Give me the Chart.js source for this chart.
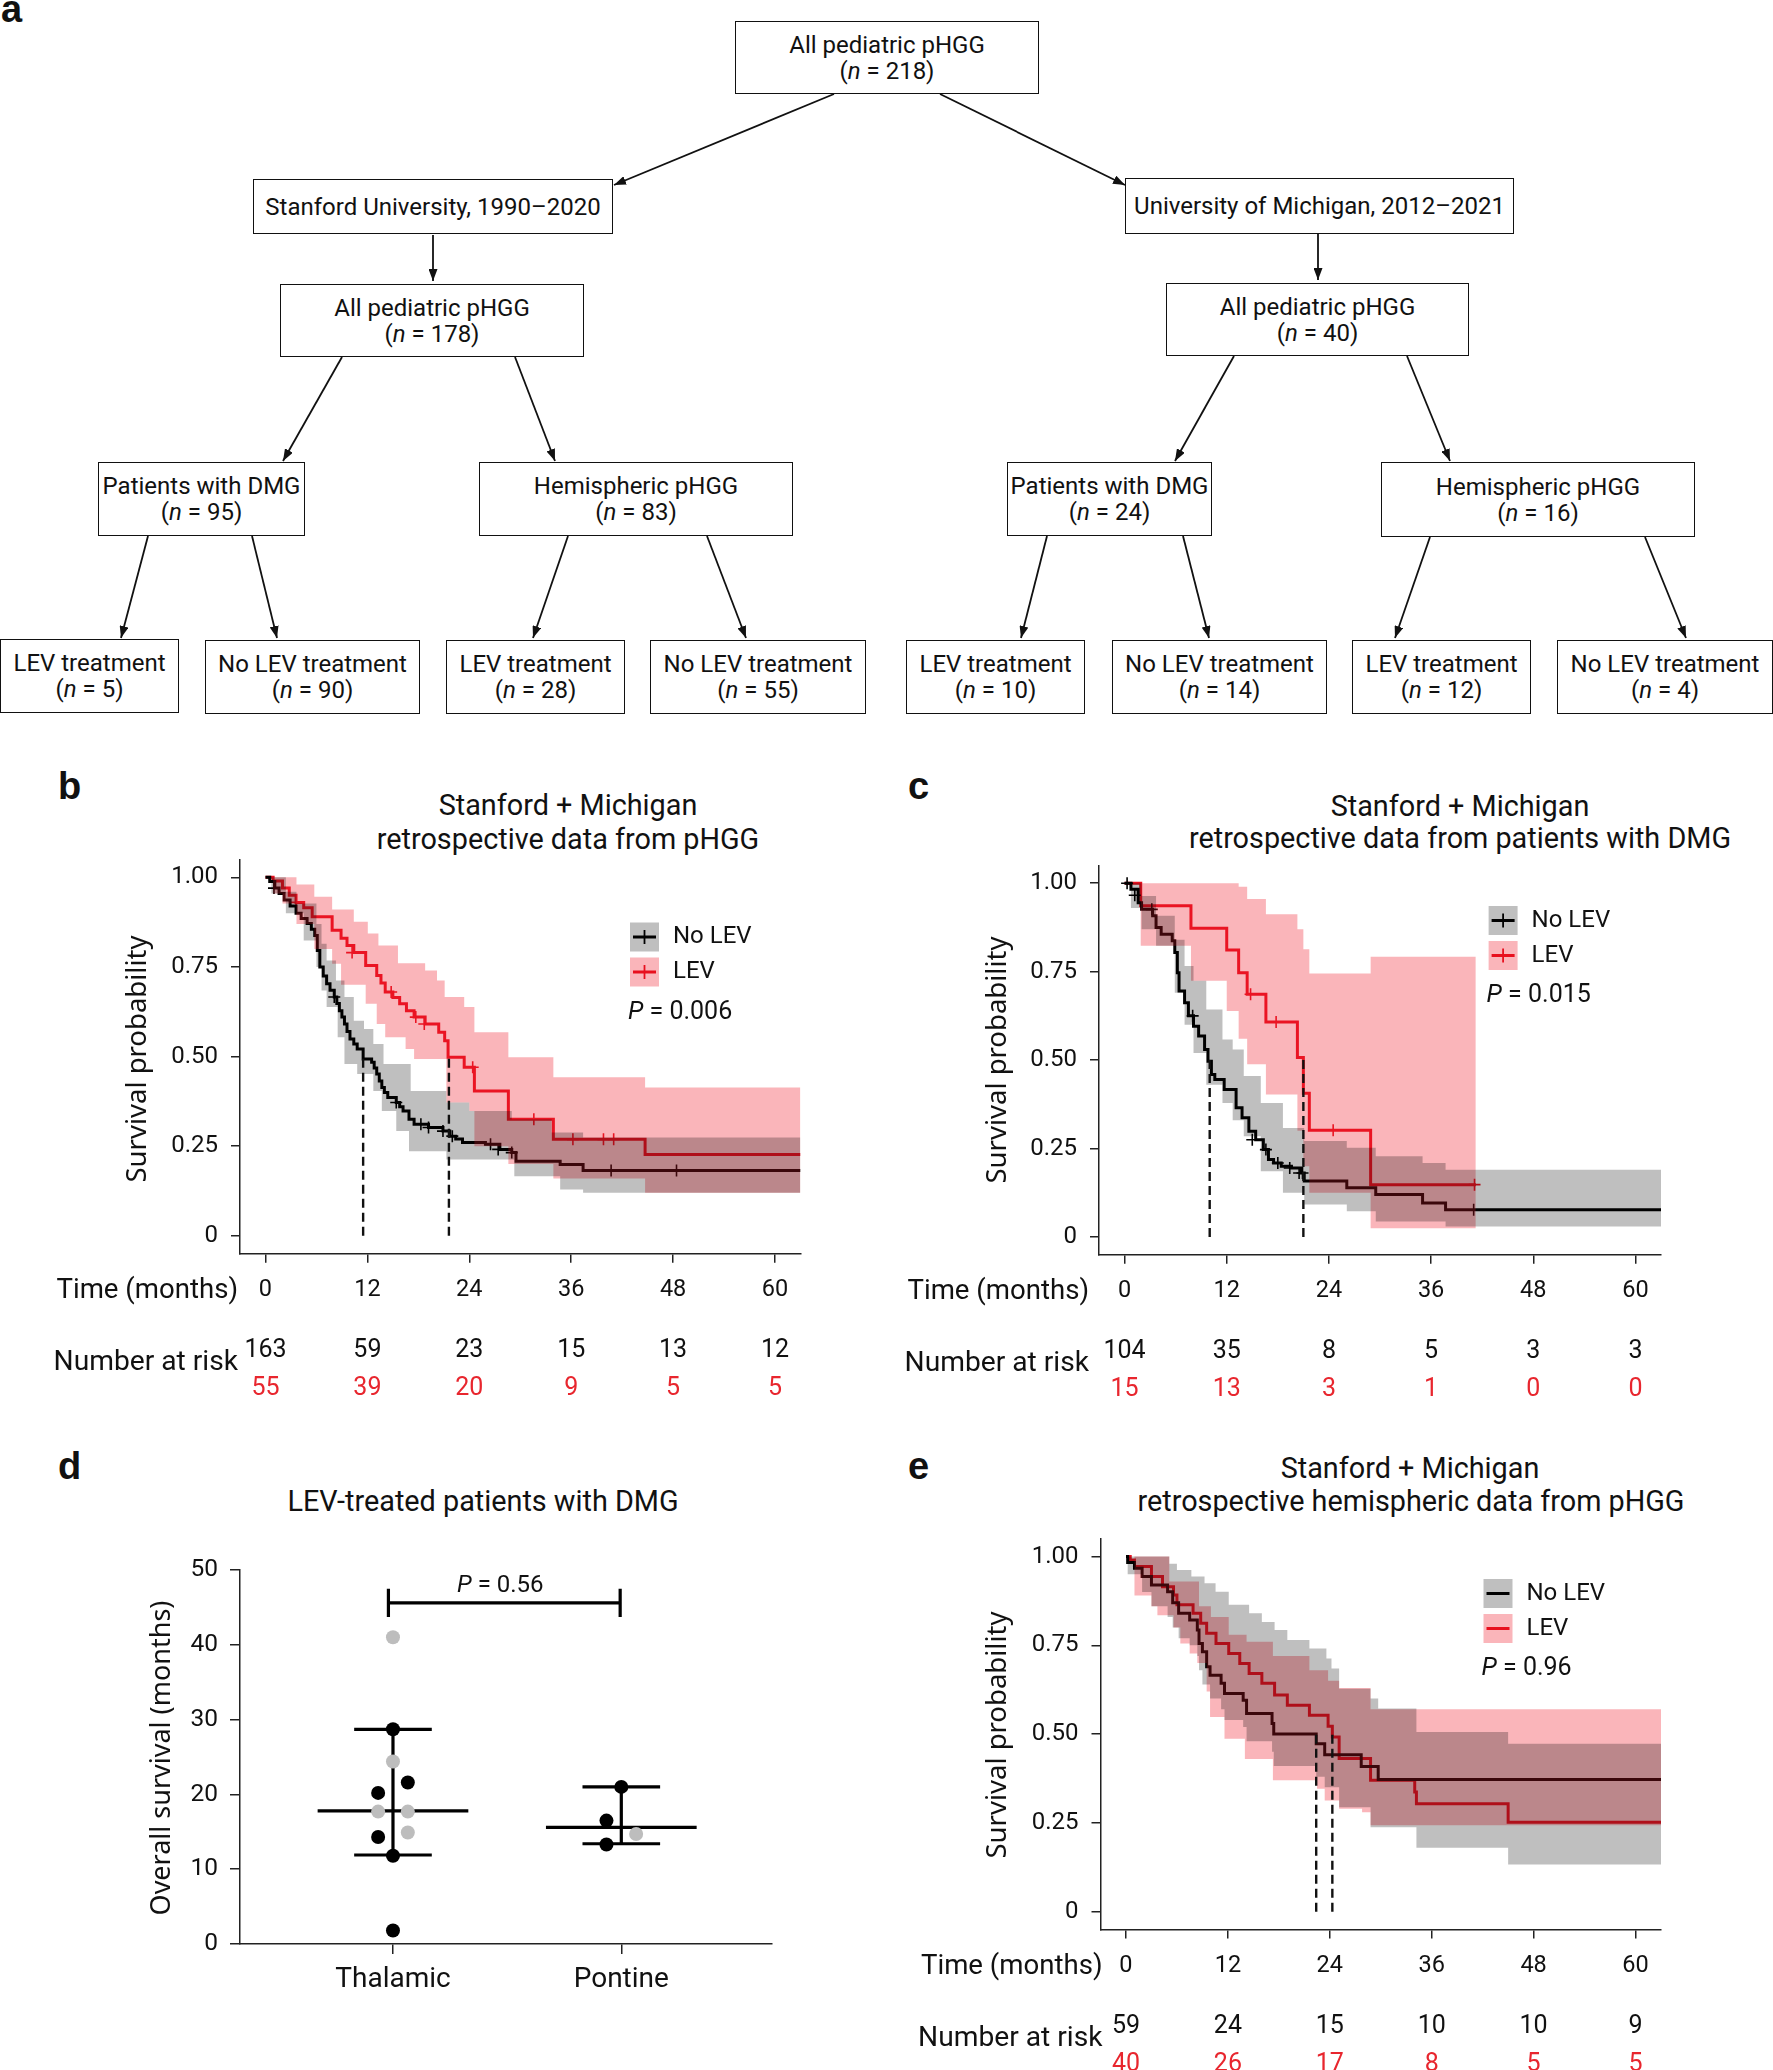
<!DOCTYPE html>
<html lang="en">
<head>
  <meta charset="UTF-8">
  <title>LEV and pHGG survival</title>
  <style>
    html, body { margin: 0; padding: 0; background: #fff; }
    body { width: 1773px; height: 2070px; position: relative; overflow: hidden; font-family: Roboto, sans-serif; color: #111; }
    .box { position: absolute; border: 1.6px solid #111; box-sizing: border-box; display: flex; flex-direction: column; justify-content: center; align-items: center; font-size: 24px; line-height: 26px; text-align: center; white-space: nowrap; background: #fff; }
    .lbl { position: absolute; font-family: "Liberation Sans", Arial, sans-serif; font-weight: bold; font-size: 38px; line-height: 38px; }
    .ttl { position: absolute; transform: translate(-50%, -50%); font-size: 28.8px; line-height: 32px; white-space: nowrap; }
    canvas { position: absolute; }
    svg { position: absolute; left: 0; top: 0; }
  </style>
</head>
<body>
  <!-- panel a : flow chart -->
  <svg width="1773" height="730">
    <defs>
      <marker id="ah" viewBox="0 0 12 9" refX="12" refY="4.5" markerWidth="12" markerHeight="9" markerUnits="userSpaceOnUse" orient="auto">
        <path d="M0,0 L12,4.5 L0,9 z" fill="#111"/>
      </marker>
    </defs>
    <g stroke="#111" stroke-width="1.8" marker-end="url(#ah)">
      <line x1="834" y1="94" x2="614" y2="185"/>
      <line x1="940" y1="94" x2="1125" y2="185"/>
      <line x1="433" y1="235" x2="433" y2="281"/>
      <line x1="1318" y1="234" x2="1318" y2="280"/>
      <line x1="342" y1="357" x2="283" y2="461"/>
      <line x1="515" y1="357" x2="555" y2="461"/>
      <line x1="1234" y1="356" x2="1175" y2="461"/>
      <line x1="1407" y1="356" x2="1450" y2="461"/>
      <line x1="148" y1="536" x2="121" y2="638"/>
      <line x1="252" y1="536" x2="277" y2="638"/>
      <line x1="568" y1="536" x2="533" y2="638"/>
      <line x1="707" y1="536" x2="746" y2="638"/>
      <line x1="1047" y1="536" x2="1021" y2="638"/>
      <line x1="1183" y1="536" x2="1209" y2="638"/>
      <line x1="1430" y1="537" x2="1395" y2="638"/>
      <line x1="1645" y1="537" x2="1686" y2="638"/>
    </g>
  </svg>

  <div class="lbl" style="left:1px; top:-10px;">a</div>
  <div class="box" style="left:735px; top:21px; width:304px; height:73px;"><span>All pediatric pHGG</span><span>(<i>n</i> = 218)</span></div>
  <div class="box" style="left:253px; top:179px; width:360px; height:55px;"><span>Stanford University, 1990–2020</span></div>
  <div class="box" style="left:1125px; top:178px; width:389px; height:56px;"><span>University of Michigan, 2012–2021</span></div>
  <div class="box" style="left:280px; top:284px; width:304px; height:73px;"><span>All pediatric pHGG</span><span>(<i>n</i> = 178)</span></div>
  <div class="box" style="left:1166px; top:283px; width:303px; height:73px;"><span>All pediatric pHGG</span><span>(<i>n</i> = 40)</span></div>
  <div class="box" style="left:98px; top:462px; width:207px; height:74px;"><span>Patients with DMG</span><span>(<i>n</i> = 95)</span></div>
  <div class="box" style="left:479px; top:462px; width:314px; height:74px;"><span>Hemispheric pHGG</span><span>(<i>n</i> = 83)</span></div>
  <div class="box" style="left:1007px; top:462px; width:205px; height:74px;"><span>Patients with DMG</span><span>(<i>n</i> = 24)</span></div>
  <div class="box" style="left:1381px; top:462px; width:314px; height:75px;"><span>Hemispheric pHGG</span><span>(<i>n</i> = 16)</span></div>
  <div class="box" style="left:0px; top:639px; width:179px; height:74px;"><span>LEV treatment</span><span>(<i>n</i> = 5)</span></div>
  <div class="box" style="left:205px; top:640px; width:215px; height:74px;"><span>No LEV treatment</span><span>(<i>n</i> = 90)</span></div>
  <div class="box" style="left:446px; top:640px; width:179px; height:74px;"><span>LEV treatment</span><span>(<i>n</i> = 28)</span></div>
  <div class="box" style="left:650px; top:640px; width:216px; height:74px;"><span>No LEV treatment</span><span>(<i>n</i> = 55)</span></div>
  <div class="box" style="left:906px; top:640px; width:179px; height:74px;"><span>LEV treatment</span><span>(<i>n</i> = 10)</span></div>
  <div class="box" style="left:1112px; top:640px; width:215px; height:74px;"><span>No LEV treatment</span><span>(<i>n</i> = 14)</span></div>
  <div class="box" style="left:1352px; top:640px; width:179px; height:74px;"><span>LEV treatment</span><span>(<i>n</i> = 12)</span></div>
  <div class="box" style="left:1557px; top:640px; width:216px; height:74px;"><span>No LEV treatment</span><span>(<i>n</i> = 4)</span></div>

  <!-- panel letters and titles -->
  <div class="lbl" style="left:58px; top:767px;">b</div>
  <div class="lbl" style="left:908px; top:767px;">c</div>
  <div class="lbl" style="left:58px; top:1447px;">d</div>
  <div class="lbl" style="left:908px; top:1447px;">e</div>

  <div class="ttl" style="left:568px; top:805px;">Stanford + Michigan</div>
  <div class="ttl" style="left:568px; top:839px;">retrospective data from pHGG</div>
  <div class="ttl" style="left:1460px; top:806px;">Stanford + Michigan</div>
  <div class="ttl" style="left:1460px; top:838px;">retrospective data from patients with DMG</div>
  <div class="ttl" style="left:483px; top:1501px;">LEV-treated patients with DMG</div>
  <div class="ttl" style="left:1410px; top:1468px;">Stanford + Michigan</div>
  <div class="ttl" style="left:1411px; top:1501px;">retrospective hemispheric data from pHGG</div>

  <canvas id="kmB" width="830" height="580" style="left:0px; top:832px;"></canvas>
  <canvas id="kmC" width="830" height="580" style="left:870px; top:832px;"></canvas>
  <canvas id="dotD" width="830" height="520" style="left:0px; top:1520px;"></canvas>
  <canvas id="kmE" width="830" height="560" style="left:870px; top:1510px;"></canvas>

  <script src="https://cdn.jsdelivr.net/npm/chart.js"></script>
  <script>
    // shared tick values
    const timeTicks = [0, 12, 24, 36, 48, 60];
    const survTicks = [0, 0.25, 0.5, 0.75, 1];

    // ---- panel b: all pHGG ----
    const bNoLevT = [0, 0.5, 1.1, 1.6, 2.2, 2.9, 3.6, 4.2, 4.9, 5.4, 5.8, 6.1, 6.4, 6.8, 7.2, 7.6, 8.1, 8.4, 8.7, 9.0, 9.3, 9.6, 9.95, 10.4, 10.8, 11.5, 12.5, 12.8, 13.1, 13.4, 13.7, 14.0, 14.4, 15.4, 15.8, 16.2, 16.9, 17.5, 19.2, 20.9, 21.7, 22.4, 23.2, 25.9, 27.6, 29.0, 29.5, 34.7, 37.4, 63];
    const bNoLevS = [1.0, 0.988, 0.97, 0.955, 0.937, 0.92, 0.90, 0.885, 0.871, 0.855, 0.838, 0.796, 0.75, 0.725, 0.703, 0.685, 0.666, 0.648, 0.628, 0.61, 0.591, 0.57, 0.549, 0.535, 0.521, 0.493, 0.484, 0.468, 0.451, 0.432, 0.414, 0.40, 0.386, 0.372, 0.36, 0.348, 0.325, 0.311, 0.302, 0.292, 0.278, 0.27, 0.26, 0.255, 0.241, 0.232, 0.208, 0.199, 0.182, 0.182];
    const bLevT = [0, 0.9, 2.0, 2.8, 3.6, 4.5, 5.5, 7.85, 8.9, 9.6, 10.4, 11.8, 13.1, 13.6, 14.1, 15.0, 15.8, 16.6, 17.5, 18.8, 20.4, 21.1, 21.5, 23.4, 24.6, 28.6, 33.9, 44.7, 63];
    const bLevS = [1.0, 0.99, 0.97, 0.95, 0.93, 0.915, 0.89, 0.852, 0.83, 0.81, 0.79, 0.754, 0.726, 0.705, 0.68, 0.665, 0.647, 0.628, 0.61, 0.591, 0.568, 0.544, 0.498, 0.47, 0.404, 0.325, 0.269, 0.227, 0.227];
    const bNoLevCiT = [0, 0.7, 2.4, 3.65, 4.5, 6.0, 6.6, 7.2, 8.3, 8.5, 9.3, 10.4, 10.8, 11.6, 12.7, 13.7, 13.9, 15.4, 16.9, 17.1, 21.3, 24.0, 29.0, 29.3, 33.7, 34.7, 37.4, 63];
    const bNoLevUp = [1.0, 1.0, 0.96, 0.927, 0.927, 0.87, 0.815, 0.768, 0.712, 0.712, 0.666, 0.60, 0.60, 0.577, 0.535, 0.535, 0.479, 0.479, 0.479, 0.404, 0.372, 0.348, 0.325, 0.325, 0.288, 0.288, 0.274, 0.274];
    const bNoLevLo = [1.0, 0.955, 0.90, 0.90, 0.824, 0.75, 0.684, 0.638, 0.638, 0.554, 0.479, 0.479, 0.451, 0.451, 0.404, 0.348, 0.348, 0.292, 0.236, 0.236, 0.213, 0.213, 0.213, 0.166, 0.166, 0.129, 0.12, 0.12];
    const bLevCiT = [0, 0.9, 2.0, 3.65, 5.75, 7.85, 8.9, 10.4, 11.8, 12.05, 13.1, 13.3, 14.1, 15.6, 16.5, 17.5, 18.8, 20.2, 21.1, 21.3, 23.4, 24.0, 24.6, 28.6, 33.9, 44.7, 63];
    const bLevUp = [1.0, 1.0, 1.0, 0.98, 0.946, 0.91, 0.91, 0.876, 0.876, 0.843, 0.843, 0.81, 0.81, 0.76, 0.76, 0.76, 0.74, 0.712, 0.666, 0.666, 0.638, 0.638, 0.568, 0.498, 0.442, 0.414, 0.414];
    const bLevLo = [1.0, 0.955, 0.927, 0.87, 0.80, 0.759, 0.70, 0.70, 0.647, 0.647, 0.591, 0.591, 0.554, 0.554, 0.521, 0.493, 0.493, 0.493, 0.493, 0.372, 0.372, 0.348, 0.25, 0.20, 0.16, 0.12, 0.12];
    const bNoLevCensT = [1.0, 8.1, 15.4, 18.3, 19.2, 20.9, 22.0, 26.5, 27.4, 29.0, 40.7, 48.4];
    const bNoLevCensS = [0.97, 0.666, 0.372, 0.311, 0.302, 0.292, 0.278, 0.255, 0.241, 0.232, 0.182, 0.182];
    const bLevCensT = [3.6, 10.2, 14.8, 17.7, 18.7, 24.4, 31.6, 36.2, 39.8, 41.0];
    const bLevCensS = [0.93, 0.79, 0.68, 0.61, 0.591, 0.47, 0.325, 0.269, 0.269, 0.269];
    const bMedians = [11.5, 21.6];
    const bRiskNoLev = [163, 59, 23, 15, 13, 12];
    const bRiskLev = [55, 39, 20, 9, 5, 5];

    // ---- panel c: DMG ----
    const cNoLevT = [0, 0.75, 1.6, 2.0, 3.3, 3.7, 4.3, 5.6, 5.9, 6.2, 6.4, 7.05, 7.5, 8.1, 8.7, 9.4, 9.8, 10.2, 10.6, 11.7, 13.1, 13.8, 14.6, 15.4, 16.3, 16.9, 17.5, 18.4, 19.6, 20.7, 21.1, 26.1, 29.5, 35.0, 37.7, 63];
    const cNoLevS = [1.0, 0.983, 0.945, 0.926, 0.908, 0.875, 0.856, 0.837, 0.804, 0.747, 0.695, 0.662, 0.625, 0.596, 0.568, 0.53, 0.497, 0.459, 0.445, 0.417, 0.365, 0.337, 0.299, 0.275, 0.247, 0.219, 0.209, 0.2, 0.195, 0.181, 0.158, 0.139, 0.12, 0.096, 0.077, 0.077];
    const cLevT = [0, 1.9, 7.8, 12.0, 13.4, 14.4, 16.6, 20.3, 21.0, 21.7, 28.9, 41.25];
    const cLevS = [1.0, 0.936, 0.873, 0.811, 0.747, 0.686, 0.608, 0.507, 0.406, 0.302, 0.148, 0.148];
    const cNoLevCiT = [0, 0.75, 2.0, 3.7, 5.9, 7.05, 8.1, 9.6, 11.5, 12.7, 14.0, 16.0, 18.6, 21.1, 26.1, 29.5, 35.0, 37.7, 63];
    const cNoLevUp = [1.0, 1.0, 0.964, 0.908, 0.84, 0.766, 0.724, 0.643, 0.558, 0.53, 0.455, 0.379, 0.308, 0.271, 0.252, 0.228, 0.209, 0.19, 0.19];
    const cNoLevLo = [1.0, 0.93, 0.87, 0.823, 0.69, 0.60, 0.52, 0.43, 0.379, 0.33, 0.285, 0.186, 0.125, 0.092, 0.073, 0.044, 0.044, 0.03, 0.03];
    const cLevCiT = [0, 1.9, 7.8, 12.0, 13.4, 14.4, 16.6, 20.3, 21.0, 21.7, 28.9, 41.25];
    const cLevUp = [1.0, 1.0, 1.0, 1.0, 0.99, 0.955, 0.912, 0.87, 0.813, 0.745, 0.792, 0.792];
    const cLevLo = [1.0, 0.823, 0.724, 0.639, 0.56, 0.488, 0.403, 0.30, 0.2, 0.125, 0.025, 0.025];
    const cNoLevCensT = [0.3, 1.2, 3.2, 8.0, 15.0, 16.6, 18.0, 19.4, 20.5, 20.9, 41.0];
    const cNoLevCensS = [1.0, 0.966, 0.926, 0.625, 0.275, 0.247, 0.209, 0.195, 0.181, 0.181, 0.077];
    const cLevCensT = [14.8, 17.8, 24.5, 41.1];
    const cLevCensS = [0.686, 0.608, 0.302, 0.148];
    const cMedians = [10.0, 21.0];
    const cRiskNoLev = [104, 35, 8, 5, 3, 3];
    const cRiskLev = [15, 13, 3, 1, 0, 0];

    // ---- panel e: hemispheric ----
    const eNoLevT = [0, 0.2, 1.0, 1.9, 3.0, 4.9, 5.5, 6.2, 7.5, 8.4, 8.6, 9.0, 9.5, 9.9, 11.2, 11.6, 13.8, 14.2, 17.2, 17.4, 22.4, 23.4, 27.7, 29.7, 63];
    const eNoLevS = [1.0, 0.983, 0.967, 0.944, 0.92, 0.901, 0.87, 0.84, 0.821, 0.793, 0.755, 0.732, 0.69, 0.666, 0.643, 0.614, 0.595, 0.558, 0.53, 0.50, 0.473, 0.442, 0.409, 0.372, 0.372];
    const eLevT = [0, 0.5, 1.0, 3.0, 4.3, 5.6, 6.0, 7.9, 8.8, 9.5, 10.6, 12.1, 13.4, 14.5, 16.0, 17.5, 19.0, 21.6, 23.8, 24.3, 25.1, 28.8, 34.0, 34.2, 45.0, 63];
    const eLevS = [1.0, 0.99, 0.972, 0.944, 0.915, 0.892, 0.864, 0.84, 0.812, 0.784, 0.755, 0.727, 0.699, 0.671, 0.643, 0.61, 0.581, 0.553, 0.522, 0.492, 0.431, 0.37, 0.337, 0.304, 0.252, 0.252];
    const eNoLevCiT = [0, 0.2, 1.9, 3.0, 4.9, 5.1, 5.5, 6.0, 6.2, 7.5, 7.7, 8.4, 8.6, 9.0, 9.25, 9.9, 10.55, 11.2, 11.6, 12.1, 13.8, 14.2, 14.5, 16.0, 17.2, 17.4, 17.5, 19.0, 21.6, 22.4, 23.4, 23.6, 24.2, 25.1, 27.9, 28.8, 29.7, 33.8, 34.2, 45.0, 63];
    const eNoLevUp = [1.0, 1.0, 1.0, 1.0, 1.0, 0.98, 0.98, 0.962, 0.962, 0.962, 0.944, 0.944, 0.944, 0.944, 0.925, 0.925, 0.901, 0.901, 0.901, 0.864, 0.864, 0.864, 0.84, 0.816, 0.816, 0.816, 0.793, 0.765, 0.741, 0.741, 0.741, 0.713, 0.685, 0.628, 0.628, 0.60, 0.572, 0.572, 0.506, 0.473, 0.473];
    const eNoLevLo = [1.0, 0.95, 0.9, 0.86, 0.83, 0.83, 0.8, 0.8, 0.77, 0.75, 0.75, 0.72, 0.68, 0.64, 0.64, 0.6, 0.6, 0.57, 0.54, 0.54, 0.52, 0.48, 0.48, 0.48, 0.45, 0.41, 0.41, 0.41, 0.41, 0.38, 0.35, 0.35, 0.35, 0.294, 0.294, 0.238, 0.238, 0.238, 0.18, 0.133, 0.133];
    const eLevCiT = [0, 1.0, 3.0, 3.7, 5.1, 5.6, 6.4, 7.5, 8.4, 8.6, 9.5, 9.9, 10.0, 11.6, 12.1, 14.0, 14.2, 17.3, 21.6, 22.5, 23.4, 23.8, 25.1, 27.8, 28.8, 63];
    const eLevUp = [1.0, 1.0, 1.0, 1.0, 0.93, 0.93, 0.93, 0.93, 0.93, 0.86, 0.86, 0.86, 0.83, 0.83, 0.78, 0.78, 0.76, 0.72, 0.68, 0.68, 0.68, 0.65, 0.63, 0.63, 0.57, 0.57];
    const eLevLo = [1.0, 0.89, 0.86, 0.835, 0.835, 0.80, 0.755, 0.727, 0.70, 0.70, 0.62, 0.548, 0.548, 0.487, 0.487, 0.43, 0.43, 0.37, 0.37, 0.346, 0.313, 0.313, 0.29, 0.28, 0.243, 0.243];
    const eMedians = [22.4, 24.3];
    const eRiskNoLev = [59, 24, 15, 10, 10, 9];
    const eRiskLev = [40, 26, 17, 8, 5, 5];

    // ---- panel d: LEV-treated DMG ----
    const dGroups = ['Thalamic', 'Pontine'];
    const dBlackGroup = [1, 1, 1, 1, 1, 1, 2, 2, 2];
    const dBlackOS = [28.7, 21.6, 20.2, 14.3, 11.8, 1.8, 21.0, 16.5, 13.3];
    const dGrayGroup = [1, 1, 1, 1, 1, 2];
    const dGrayOS = [41.0, 24.4, 17.7, 17.7, 14.9, 14.7];
    const dMedian = [17.8, 15.6];
    const dQ1 = [11.9, 13.4];
    const dQ3 = [28.7, 21.0];
    const dPValue = '0.56';
    // horizontal spread of the dots (layout only)
    const dBlackJitter = [0, 0.065, -0.065, -0.065, 0, 0, 0, -0.065, -0.065];
    const dGrayJitter = [0, 0, -0.065, 0.065, 0.065, 0.065];

    const TXT = '#111';
    const AXIS = '#222';
    const LINE_BLACK = '#000';
    const LINE_RED = '#e8101e';
    const RED_TXT = '#e8262e';
    const GRAY_BAND = 'rgba(0,0,0,0.25)';
    const PINK_BAND = 'rgba(240,30,45,0.33)';

    function pts(ts, ss) {
      return ts.map((t, i) => ({ x: t, y: ss[i] }));
    }

    function kmExtras(cfg) {
      return {
        id: 'kmExtras',
        afterDraw(chart) {
          const { ctx, chartArea: a } = chart;
          const xs = chart.scales.x;
          ctx.save();
          ctx.fillStyle = TXT;
          // rotated y title
          ctx.save();
          ctx.translate(cfg.yTitleAt[0], cfg.yTitleAt[1]);
          ctx.rotate(-Math.PI / 2);
          ctx.font = '27.5px "Noto Sans"';
          ctx.textAlign = 'center';
          ctx.textBaseline = 'middle';
          ctx.fillText('Survival probability', 0, 0);
          ctx.restore();

          ctx.textBaseline = 'middle';
          ctx.textAlign = 'right';
          ctx.font = '27.6px Roboto';
          ctx.fillText('Time (months)', a.left + cfg.labelDx, a.bottom + 37.5);
          ctx.font = '28.2px Roboto';
          ctx.fillText('Number at risk', a.left + cfg.labelDx, a.bottom + 109.5);

          // number at risk table
          ctx.textAlign = 'center';
          ctx.font = '25px Roboto';
          timeTicks.forEach((t, i) => {
            const px = xs.getPixelForValue(t);
            ctx.fillStyle = TXT;
            ctx.fillText(String(cfg.riskNoLev[i]), px, a.bottom + 97.5);
            ctx.fillStyle = RED_TXT;
            ctx.fillText(String(cfg.riskLev[i]), px, a.bottom + 135.5);
          });

          // legend
          const lx = cfg.legendAt[0], ly = cfg.legendAt[1], sw = 29;
          [['No LEV', GRAY_BAND, LINE_BLACK], ['LEV', PINK_BAND, LINE_RED]].forEach((it, i) => {
            const y0 = ly + i * 35;
            ctx.fillStyle = it[1];
            ctx.fillRect(lx, y0, sw, sw);
            ctx.strokeStyle = it[2];
            ctx.lineWidth = 3;
            ctx.beginPath();
            ctx.moveTo(lx + 3, y0 + sw / 2);
            ctx.lineTo(lx + sw - 3, y0 + sw / 2);
            ctx.stroke();
            if (cfg.cross) {
              ctx.lineWidth = 1.8;
              ctx.beginPath();
              ctx.moveTo(lx + sw / 2, y0 + sw / 2 - 7);
              ctx.lineTo(lx + sw / 2, y0 + sw / 2 + 7);
              ctx.stroke();
            }
            ctx.fillStyle = TXT;
            ctx.textAlign = 'left';
            ctx.font = '24px Roboto';
            ctx.fillText(it[0], lx + 43, y0 + sw / 2);
          });
          ctx.font = 'italic 25px Roboto';
          ctx.fillText('P', lx - 2, ly + 90);
          const pw = ctx.measureText('P').width;
          ctx.font = '25px Roboto';
          ctx.fillText(' = ' + cfg.pValue, lx - 2 + pw, ly + 90);
          ctx.restore();
        }
      };
    }

    function makeKM(id, d) {
      const band = (ts, vs, color, fill) => ({
        data: pts(ts, vs), stepped: true, borderWidth: 0, borderColor: 'transparent',
        backgroundColor: color, fill: fill, pointRadius: 0
      });
      const cens = (ts, ss, color) => ({
        data: pts(ts, ss), showLine: false, pointStyle: 'cross', pointRadius: 6,
        pointBorderColor: color, pointBorderWidth: 1.6, borderColor: color
      });
      const curve = (ts, ss, color) => ({
        data: pts(ts, ss), stepped: true, borderColor: color, borderWidth: 3,
        pointRadius: 0, fill: false, borderJoinStyle: 'miter'
      });
      const medians = d.medians.map(m => ({
        data: [{ x: m, y: 0 }, { x: m, y: 0.5 }], borderColor: '#111', borderWidth: 2.4,
        borderDash: [9, 5], pointRadius: 0, fill: false
      }));
      // lower index = drawn later (on top): medians, bands, then curves below bands
      const datasets = [
        ...medians,
        band(d.noLevCiT, d.noLevUp, GRAY_BAND, '+1'),
        band(d.noLevCiT, d.noLevLo, 'transparent', false),
        band(d.levCiT, d.levUp, PINK_BAND, '+1'),
        band(d.levCiT, d.levLo, 'transparent', false),
        cens(d.noLevCensT, d.noLevCensS, LINE_BLACK),
        curve(d.noLevT, d.noLevS, LINE_BLACK),
        cens(d.levCensT, d.levCensS, LINE_RED),
        curve(d.levT, d.levS, LINE_RED)
      ];
      return new Chart(document.getElementById(id), {
        type: 'line',
        data: { datasets },
        options: {
          responsive: false,
          animation: false,
          devicePixelRatio: 1,
          layout: { padding: d.padding },
          plugins: { legend: { display: false }, tooltip: { enabled: false } },
          scales: {
            x: {
              type: 'linear', min: -3, max: 63,
              afterBuildTicks: ax => { ax.ticks = timeTicks.map(v => ({ value: v })); },
              afterFit: ax => { ax.height = 60; },
              grid: { drawOnChartArea: false, drawTicks: true, tickLength: 9, color: AXIS, lineWidth: 1.5 },
              border: { display: true, color: AXIS, width: 1.5 },
              ticks: { padding: 13.5, color: TXT, font: { family: 'Roboto', size: 23.5 }, maxRotation: 0 }
            },
            y: {
              type: 'linear', min: -0.05, max: 1.05,
              afterBuildTicks: ax => { ax.ticks = survTicks.map(v => ({ value: v })); },
              afterFit: ax => { ax.width = 90; },
              grid: { drawOnChartArea: false, drawTicks: true, tickLength: 9, color: AXIS, lineWidth: 1.5 },
              border: { display: true, color: AXIS, width: 1.5 },
              ticks: { padding: 13, color: TXT, font: { family: 'Roboto', size: 24 },
                callback: v => (v === 0 ? '0' : v.toFixed(2)) }
            }
          }
        },
        plugins: [kmExtras(d)]
      });
    }

    makeKM('kmB', {
      noLevT: bNoLevT, noLevS: bNoLevS, levT: bLevT, levS: bLevS,
      noLevCiT: bNoLevCiT, noLevUp: bNoLevUp, noLevLo: bNoLevLo,
      levCiT: bLevCiT, levUp: bLevUp, levLo: bLevLo,
      noLevCensT: bNoLevCensT, noLevCensS: bNoLevCensS, levCensT: bLevCensT, levCensS: bLevCensS,
      medians: bMedians, riskNoLev: bRiskNoLev, riskLev: bRiskLev, pValue: '0.006', cross: true,
      padding: { left: 150, right: 29.5, top: 25.3, bottom: 98.3 },
      yTitleAt: [138, 227], legendAt: [630, 90.5], labelDx: -2
    });

    makeKM('kmC', {
      noLevT: cNoLevT, noLevS: cNoLevS, levT: cLevT, levS: cLevS,
      noLevCiT: cNoLevCiT, noLevUp: cNoLevUp, noLevLo: cNoLevLo,
      levCiT: cLevCiT, levUp: cLevUp, levLo: cLevLo,
      noLevCensT: cNoLevCensT, noLevCensS: cNoLevCensS, levCensT: cLevCensT, levCensS: cLevCensS,
      medians: cMedians, riskNoLev: cRiskNoLev, riskLev: cRiskLev, pValue: '0.015', cross: true,
      padding: { left: 139, right: 39, top: 33.5, bottom: 97.3 },
      yTitleAt: [128, 228], legendAt: [618.6, 74], labelDx: -10
    });

    makeKM('kmE', {
      noLevT: eNoLevT, noLevS: eNoLevS, levT: eLevT, levS: eLevS,
      noLevCiT: eNoLevCiT, noLevUp: eNoLevUp, noLevLo: eNoLevLo,
      levCiT: eLevCiT, levUp: eLevUp, levLo: eLevLo,
      noLevCensT: [], noLevCensS: [], levCensT: [], levCensS: [],
      medians: eMedians, riskNoLev: eRiskNoLev, riskLev: eRiskLev, pValue: '0.96', cross: false,
      padding: { left: 140.5, right: 39, top: 28.8, bottom: 80.6 },
      yTitleAt: [128, 225], legendAt: [613.5, 69], labelDx: 2
    });

    // ---- panel d chart ----
    function segments(list) {
      const out = [];
      list.forEach(s => { out.push({ x: s[0], y: s[1] }, { x: s[2], y: s[3] }, { x: s[2], y: null }); });
      return out;
    }
    const summarySegs = [];
    dMedian.forEach((m, g) => {
      const c = g + 1;
      summarySegs.push([c - 0.33, m, c + 0.33, m]);
      summarySegs.push([c, dQ1[g], c, dQ3[g]]);
      summarySegs.push([c - 0.17, dQ1[g], c + 0.17, dQ1[g]]);
      summarySegs.push([c - 0.17, dQ3[g], c + 0.17, dQ3[g]]);
    });
    const bracketY = 45.6;
    const bracketSegs = [[0.98, bracketY, 1.995, bracketY], [0.98, bracketY - 1.9, 0.98, bracketY + 1.9], [1.995, bracketY - 1.9, 1.995, bracketY + 1.9]];

    const dExtras = {
      id: 'dExtras',
      afterDraw(chart) {
        const { ctx } = chart;
        ctx.save();
        ctx.fillStyle = TXT;
        ctx.translate(162, 238);
        ctx.rotate(-Math.PI / 2);
        ctx.font = '27px "Noto Sans"';
        ctx.textAlign = 'center';
        ctx.textBaseline = 'middle';
        ctx.fillText('Overall survival (months)', 0, 0);
        ctx.restore();

        ctx.save();
        ctx.fillStyle = TXT;
        ctx.textBaseline = 'middle';
        const px = chart.scales.x.getPixelForValue(1.47);
        const py = chart.scales.y.getPixelForValue(47.9);
        ctx.font = 'italic 24px Roboto';
        const w1 = ctx.measureText('P').width;
        ctx.font = '24px Roboto';
        const rest = ' = ' + dPValue;
        const w2 = ctx.measureText(rest).width;
        const x0 = px - (w1 + w2) / 2;
        ctx.font = 'italic 24px Roboto';
        ctx.textAlign = 'left';
        ctx.fillText('P', x0, py);
        ctx.font = '24px Roboto';
        ctx.fillText(rest, x0 + w1, py);
        ctx.restore();
      }
    };

    new Chart(document.getElementById('dotD'), {
      type: 'line',
      data: {
        datasets: [
          { data: dBlackOS.map((v, i) => ({ x: dBlackGroup[i] + dBlackJitter[i], y: v })), showLine: false,
            pointRadius: 7, pointBackgroundColor: '#000', pointBorderWidth: 0 },
          { data: dGrayOS.map((v, i) => ({ x: dGrayGroup[i] + dGrayJitter[i], y: v })), showLine: false,
            pointRadius: 7, pointBackgroundColor: '#bdbdbd', pointBorderWidth: 0 },
          { data: segments(summarySegs), borderColor: '#000', borderWidth: 3.2, pointRadius: 0, spanGaps: false, fill: false },
          { data: segments(bracketSegs), borderColor: '#000', borderWidth: 3.2, pointRadius: 0, spanGaps: false, fill: false }
        ]
      },
      options: {
        responsive: false,
        animation: false,
        devicePixelRatio: 1,
        layout: { padding: { left: 160, right: 58, top: 50, bottom: 36 } },
        plugins: { legend: { display: false }, tooltip: { enabled: false } },
        scales: {
          x: {
            type: 'linear', min: 0.33, max: 2.66,
            afterBuildTicks: ax => { ax.ticks = [1, 2].map(v => ({ value: v })); },
            afterFit: ax => { ax.height = 60; },
            grid: { drawOnChartArea: false, drawTicks: true, tickLength: 10, color: AXIS, lineWidth: 1.5 },
            border: { display: true, color: AXIS, width: 1.5 },
            ticks: { padding: 9, color: TXT, font: { family: 'Roboto', size: 28 }, maxRotation: 0,
              callback: v => dGroups[v - 1] }
          },
          y: {
            type: 'linear', min: 0, max: 50,
            afterBuildTicks: ax => { ax.ticks = [0, 10, 20, 30, 40, 50].map(v => ({ value: v })); },
            afterFit: ax => { ax.width = 80; },
            grid: { drawOnChartArea: false, drawTicks: true, tickLength: 10, color: AXIS, lineWidth: 1.5 },
            border: { display: true, color: AXIS, width: 1.5 },
            ticks: { padding: 12, color: TXT, font: { family: 'Roboto', size: 24.5 } }
          }
        }
      },
      plugins: [dExtras]
    });
  </script>
</body>
</html>
